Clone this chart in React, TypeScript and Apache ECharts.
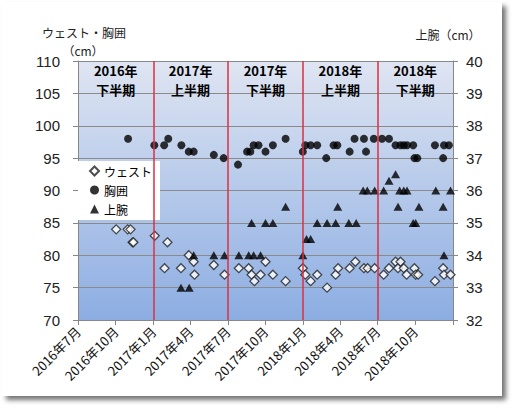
import React, { useEffect, useRef } from "react";
import * as echarts from "echarts";

// ---- data ----
const waistDates = [
  "2016-10-02", "2016-10-30", "2016-11-06", "2016-11-11", "2016-11-13",
  "2017-01-04", "2017-01-28", "2017-02-04", "2017-03-09", "2017-03-28",
  "2017-04-09", "2017-04-11", "2017-05-28", "2017-06-23", "2017-07-28",
  "2017-08-21", "2017-08-28", "2017-09-04", "2017-09-19", "2017-10-01",
  "2017-10-19", "2017-11-19", "2017-12-31", "2018-01-06", "2018-01-19",
  "2018-02-04", "2018-02-28", "2018-03-21", "2018-03-27", "2018-04-24",
  "2018-05-08", "2018-05-29", "2018-06-07", "2018-06-24", "2018-07-16",
  "2018-07-29", "2018-08-14", "2018-08-20", "2018-08-26", "2018-09-03",
  "2018-09-10", "2018-09-29", "2018-10-02", "2018-10-08", "2018-11-18",
  "2018-12-08", "2018-12-10", "2018-12-26",
];
const waistValues = [
  84, 84, 84, 82, 82,
  83, 78, 82, 78, 80,
  79, 77, 78.5, 77, 78,
  78, 77, 76, 77, 79,
  77, 76, 78, 77, 76,
  77, 75, 77, 78, 78,
  79, 78, 78, 78, 77,
  78, 79, 78, 79, 78,
  77, 78, 77, 77, 76,
  78, 77, 77,
];

const chestDates = [
  "2016-10-31", "2017-01-03", "2017-01-27", "2017-02-06", "2017-03-10",
  "2017-03-28", "2017-04-09", "2017-05-28", "2017-06-21", "2017-07-26",
  "2017-08-17", "2017-08-25", "2017-09-02", "2017-09-14", "2017-10-01",
  "2017-10-19", "2017-11-19", "2017-12-31", "2018-01-06", "2018-01-19",
  "2018-02-04", "2018-02-26", "2018-03-16", "2018-03-25", "2018-04-24",
  "2018-05-06", "2018-05-29", "2018-06-03", "2018-06-22", "2018-07-12",
  "2018-07-29", "2018-08-14", "2018-08-26", "2018-09-03", "2018-09-11",
  "2018-09-26", "2018-09-29", "2018-10-06", "2018-11-18", "2018-12-08",
  "2018-12-10", "2018-12-22",
];
const chestValues = [
  98, 97, 97, 98, 97,
  96, 96, 95.5, 95, 94,
  96, 96, 97, 97, 96,
  97, 98, 96, 97, 97,
  97, 95, 97, 97, 96,
  98, 98, 96, 98, 98,
  98, 97, 97, 97, 97,
  97, 95, 95, 97, 95,
  97, 97,
];

const armDates = [
  "2017-03-09", "2017-03-29", "2017-04-09", "2017-05-28", "2017-06-23",
  "2017-07-28", "2017-08-21", "2017-08-28", "2017-09-02", "2017-09-19",
  "2017-10-01", "2017-10-19", "2017-11-19", "2017-12-31", "2018-01-09",
  "2018-01-19", "2018-02-04", "2018-02-28", "2018-03-21", "2018-03-26",
  "2018-04-22", "2018-05-10", "2018-05-27", "2018-06-06", "2018-06-24",
  "2018-07-16", "2018-07-29", "2018-08-14", "2018-08-20", "2018-08-24",
  "2018-09-03", "2018-09-11", "2018-09-26", "2018-10-02", "2018-10-10",
  "2018-11-20", "2018-12-08", "2018-12-10", "2018-12-26",
];
const armValues = [
  33, 33, 34, 34, 34,
  34, 34, 35, 34, 34,
  35, 35, 35.5, 34, 34.5,
  34.5, 35, 35, 35, 35.5,
  35, 35, 36, 36, 36,
  36, 36.3, 36.5, 35.5, 36,
  36, 36, 35, 35, 35.5,
  36, 35.5, 34, 36,
];

const tickDates = [
  "2016-07-01", "2016-10-01", "2017-01-01", "2017-04-01", "2017-07-01",
  "2017-10-01", "2018-01-01", "2018-04-01", "2018-07-01", "2018-10-01",
  "2019-01-01",
];
const tickLabels = [
  "2016年7月", "2016年10月", "2017年1月", "2017年4月", "2017年7月",
  "2017年10月", "2018年1月", "2018年4月", "2018年7月", "2018年10月", "",
];

const halfStarts = ["2016-07-01", "2017-01-01", "2017-07-01", "2018-01-01", "2018-07-01"];
const halfEnds = ["2017-01-01", "2017-07-01", "2018-01-01", "2018-07-01", "2019-01-01"];
const halfLabels = [
  "2016年\n下半期", "2017年\n上半期", "2017年\n下半期", "2018年\n上半期", "2018年\n下半期",
];
const dividerDates = ["2017-01-01", "2017-07-01", "2018-01-01", "2018-07-01"];

const seriesNames = ["ウェスト", "胸囲", "上腕"];

const JP = '"Noto Sans CJK JP", "Noto Sans", sans-serif';
const NUM = '"Liberation Sans", Arial, sans-serif';

function ts(s: string): number {
  const [y, m, d] = s.split("-").map(Number);
  return Date.UTC(y, m - 1, d);
}
function zip(dates: string[], vals: number[]) {
  return dates.map((d, i) => [ts(d), vals[i]]);
}

export default function App() {
  const ref = useRef<HTMLDivElement>(null);
  useEffect(() => {
    if (!ref.current) return;
    const chart = echarts.init(ref.current, undefined, { renderer: "svg" });
    const tickTs = tickDates.map(ts);
    const labelMap: Record<string, string> = {};
    tickTs.forEach((t, i) => (labelMap[String(t)] = tickLabels[i]));

    const axisGray = "#878787";
    const option: any = {
      animation: false,
      graphic: [
        {
          type: "rect",
          z: -100,
          shape: { x: 2, y: 2, width: 500, height: 394 },
          style: {
            fill: "#ffffff",
            shadowBlur: 5,
            shadowOffsetX: 4,
            shadowOffsetY: 4,
            shadowColor: "rgba(0,0,0,0.55)",
          },
        },
        {
          type: "text",
          x: 84,
          y: 32,
          style: { text: "ウェスト・胸囲", font: `12px ${JP}`, fill: "#222", textAlign: "center", textVerticalAlign: "middle" },
        },
        {
          type: "text",
          x: 83,
          y: 50,
          style: { text: "（cm）", font: `12px ${JP}`, fill: "#222", textAlign: "center", textVerticalAlign: "middle" },
        },
        {
          type: "text",
          x: 448,
          y: 34,
          style: { text: "上腕（cm）", font: `12px ${JP}`, fill: "#222", textAlign: "center", textVerticalAlign: "middle" },
        },
      ],
      grid: {
        left: 78,
        right: 65,
        top: 61,
        bottom: 94,
        show: true,
        borderWidth: 0,
        backgroundColor: new echarts.graphic.LinearGradient(0, 0, 0, 1, [
          { offset: 0, color: "#dfe5f2" },
          { offset: 1, color: "#8cade2" },
        ]),
      },
      legend: {
        orient: "vertical",
        left: 78,
        top: 161,
        padding: [3, 8, 4, 11],
        itemGap: 5,
        itemWidth: 9,
        itemHeight: 9,
        backgroundColor: "#ffffff",
        textStyle: { fontFamily: JP, fontSize: 12, color: "#000", lineHeight: 14 },
        data: [
          { name: seriesNames[0], icon: "diamond" },
          { name: seriesNames[1], icon: "circle" },
          { name: seriesNames[2], icon: "triangle" },
        ],
      },
      xAxis: {
        type: "value",
        min: tickTs[0],
        max: tickTs[tickTs.length - 1],
        axisLine: { show: true, lineStyle: { color: axisGray, width: 1 } },
        axisTick: { show: true, length: 5, customValues: tickTs, lineStyle: { color: axisGray } },
        splitLine: { show: false },
        axisLabel: {
          customValues: tickTs.slice(0, tickTs.length - 1),
          rotate: 45,
          margin: 9,
          fontFamily: JP,
          fontSize: 13,
          color: "#111",
          formatter: (v: number) => {
            const k = String(v);
            if (labelMap[k] !== undefined) return labelMap[k];
            const d = new Date(v);
            return `${d.getUTCFullYear()}年${d.getUTCMonth() + 1}月`;
          },
        },
      },
      yAxis: [
        {
          type: "value",
          min: 70,
          max: 110,
          interval: 5,
          axisLine: { show: true, lineStyle: { color: axisGray } },
          axisTick: { show: true, length: 5, lineStyle: { color: axisGray } },
          splitLine: { show: true, lineStyle: { color: "#8a8a8a", width: 1 } },
          axisLabel: { margin: 18, fontFamily: NUM, fontSize: 15, color: "#222" },
        },
        {
          type: "value",
          min: 32,
          max: 40,
          interval: 1,
          axisLine: { show: true, lineStyle: { color: axisGray } },
          axisTick: { show: true, length: 5, lineStyle: { color: axisGray } },
          splitLine: { show: false },
          axisLabel: { margin: 13, fontFamily: NUM, fontSize: 15, color: "#222" },
        },
      ],
      series: [
        {
          name: seriesNames[0],
          type: "scatter",
          yAxisIndex: 0,
          symbol: "diamond",
          symbolSize: 9,
          itemStyle: { color: "#ffffff", borderColor: "#222", borderWidth: 1.3 },
          data: zip(waistDates, waistValues),
          z: 3,
          markArea: {
            silent: true,
            itemStyle: { color: "rgba(0,0,0,0)" },
            label: {
              show: true,
              position: "insideTop",
              distance: 0,
              fontFamily: JP,
              fontSize: 13,
              fontWeight: "bold",
              lineHeight: 19,
              color: "#000",
              align: "center",
            },
            data: halfStarts.map((s, i) => [
              { name: halfLabels[i], xAxis: ts(s) },
              { xAxis: ts(halfEnds[i]) },
            ]),
          },
          markLine: {
            silent: true,
            symbol: ["none", "none"],
            label: { show: false },
            lineStyle: { color: "#dc2f42", width: 1.5, type: "solid", opacity: 1 },
            data: dividerDates.map((d) => ({ xAxis: ts(d) })),
          },
        },
        {
          name: seriesNames[1],
          type: "scatter",
          yAxisIndex: 0,
          symbol: "circle",
          symbolSize: 8,
          itemStyle: { color: "#000000" },
          data: zip(chestDates, chestValues),
          z: 3,
        },
        {
          name: seriesNames[2],
          type: "scatter",
          yAxisIndex: 1,
          symbol: "triangle",
          symbolSize: [9, 8],
          itemStyle: { color: "#000000" },
          data: zip(armDates, armValues),
          z: 3,
        },
      ],
    };
    chart.setOption(option);
    return () => chart.dispose();
  }, []);
  return (
    <div
      ref={ref}
      style={{ position: "absolute", left: 0, top: 0, width: 518, height: 414, background: "#ffffff" }}
    />
  );
}
